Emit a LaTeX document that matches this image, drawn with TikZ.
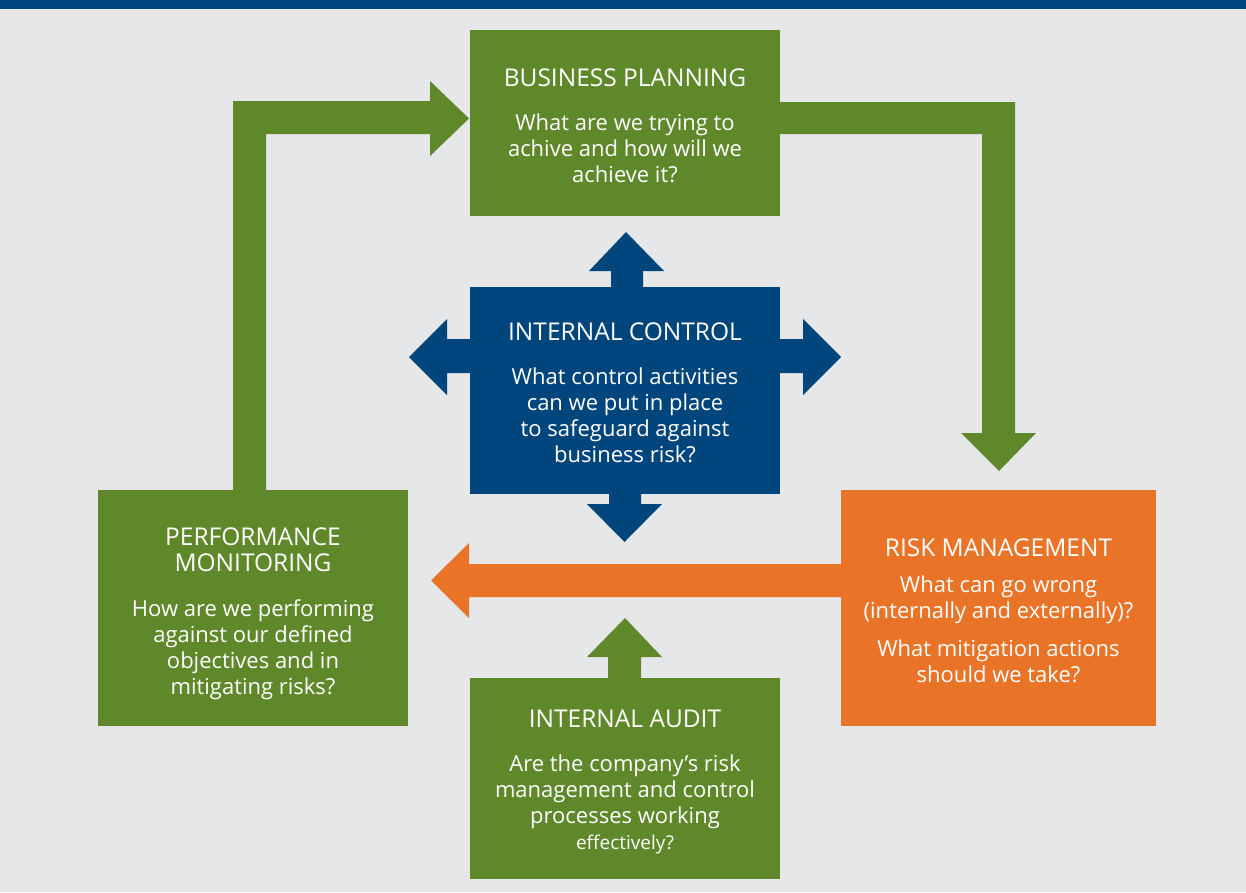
\documentclass[tikz,border=0pt]{standalone}
\usepackage{fontspec}
\setmainfont{Open Sans}
\definecolor{bggray}{RGB}{230,231,233}
\definecolor{navy}{RGB}{0,69,124}
\definecolor{leaf}{RGB}{95,136,42}
\definecolor{tang}{RGB}{233,116,40}
\tikzset{
  box/.style={fill=#1, draw=none, inner sep=0pt},
  boxtext/.style={text=white, align=center, inner sep=0pt,
    font=\fontsize{22}{26}\selectfont},
}
\newcommand{\ttl}[1]{{\fontsize{24.5}{26}\selectfont #1}}
\begin{document}
\begin{tikzpicture}[x=1pt,y=-1pt]
\useasboundingbox (0,0) rectangle (1246,892);
\fill[bggray] (0,0) rectangle (1246,892);
\fill[navy] (0,0) rectangle (1246,9);

% block arrows
\fill[leaf] (233,490) -- (233,101) -- (430,101) -- (430,81) -- (469,118.5) -- (430,156) -- (430,134) -- (266,134) -- (266,490) -- cycle;
\fill[leaf] (780,102) -- (1015,102) -- (1015,433) -- (1036,433) -- (999,471) -- (961,433) -- (982,433) -- (982,134) -- (780,134) -- cycle;
\fill[navy] (611,290) -- (611,271) -- (589,271) -- (626,232) -- (664,271) -- (643,271) -- (643,290) -- cycle;
\fill[navy] (473,339) -- (447,339) -- (447,319) -- (409,357) -- (447,395) -- (447,373) -- (473,373) -- cycle;
\fill[navy] (777,339) -- (803,339) -- (803,319) -- (841,357) -- (803,395) -- (803,373) -- (777,373) -- cycle;
\fill[navy] (609,490) -- (609,504) -- (587,504) -- (624.5,542) -- (662,504) -- (641,504) -- (641,490) -- cycle;
\fill[tang] (844,564) -- (469,564) -- (469,543) -- (431,580.5) -- (469,618) -- (469,597) -- (844,597) -- cycle;
\fill[leaf] (608,681) -- (608,657) -- (587,657) -- (625,618) -- (662,657) -- (641,657) -- (641,681) -- cycle;

% boxes
\node[box=leaf, minimum width=310pt, minimum height=186pt] (bp) at (625,123) {};
\node[box=navy, minimum width=310pt, minimum height=207pt] (ic) at (625,390.5) {};
\node[box=leaf, minimum width=310pt, minimum height=236pt] (pm) at (253,608) {};
\node[box=tang, minimum width=315pt, minimum height=236pt] (rm) at (998.5,608) {};
\node[box=leaf, minimum width=310pt, minimum height=201pt] (ia) at (625,778.5) {};

% texts
\node[boxtext, yshift=-3pt] (bpt) at (bp.center)
  {\ttl{BUSINESS PLANNING}\\[18pt]What are we trying to\\achive and how will we\\achieve it?};
\node[boxtext, yshift=-2pt] (ict) at (ic.center)
  {\ttl{INTERNAL CONTROL}\\[18pt]What control activities\\can we put in place\\to safeguard against\\business risk?};
\node[boxtext, yshift=-5.5pt] (pmt) at (pm.center)
  {\ttl{PERFORMANCE}\\\ttl{MONITORING}\\[19pt]How are we performing\\against our defined\\objectives and in\\mitigating risks?};
\node[boxtext, yshift=-3pt] (rmt) at (rm.center)
  {\ttl{RISK MANAGEMENT}\\[10pt]What can go wrong\\(internally and externally)?\\[12pt]What mitigation actions\\should we take?};
\node[boxtext, yshift=-3pt] (iat) at (ia.center)
  {\ttl{INTERNAL AUDIT}\\[18pt]Are the company’s risk\\management and control\\processes working\\{\fontsize{19}{26}\selectfont effectively?}};
\end{tikzpicture}
\end{document}
